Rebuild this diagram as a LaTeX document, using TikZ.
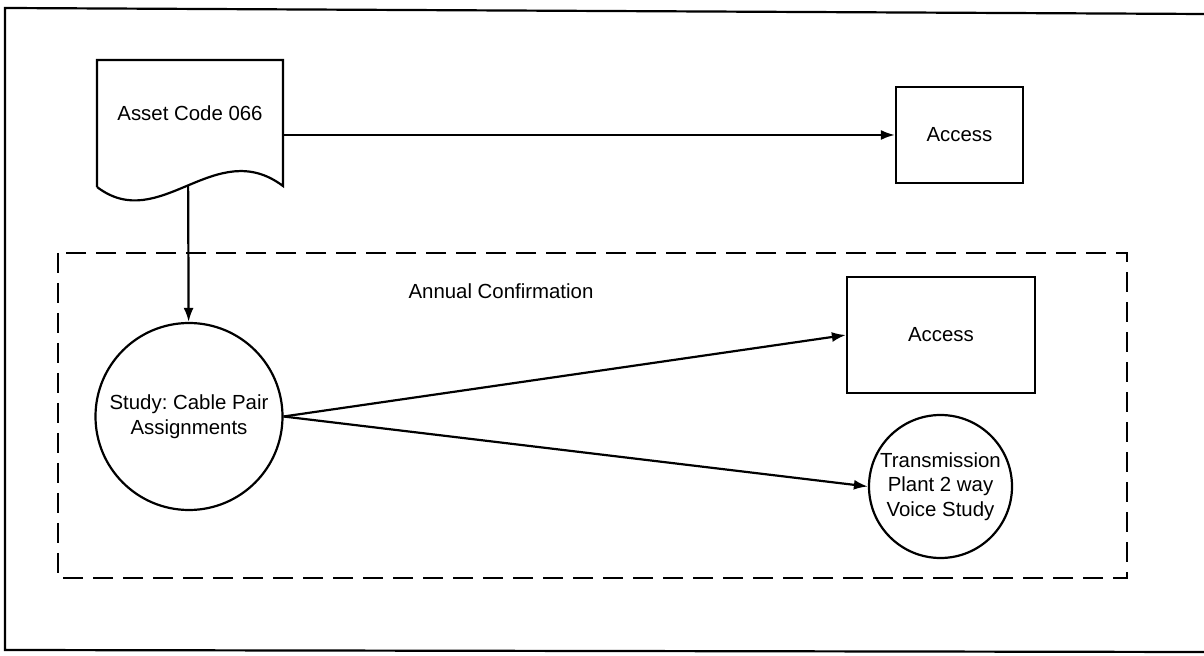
\documentclass[tikz,border=0pt]{standalone}
\usepackage{fontspec}
\setmainfont{Liberation Sans}
\usetikzlibrary{arrows.meta}
\frenchspacing
\begin{document}
\begin{tikzpicture}[x=0.5pt, y=-0.5pt, line width=1.1pt,
    font=\fontsize{10.2}{12.3}\selectfont,
    box/.style={draw, rectangle, inner sep=0pt},
    bubble/.style={draw, circle, inner sep=0pt, align=center},
    flow/.style={-{Latex[length=7pt, width=5pt]}},
    group/.style={dashed, dash pattern=on 10pt off 5pt}]
        \useasboundingbox (0,0) rectangle (1204,656);

        % Outer frame of the page
        \draw (1204,14) -- (5,8) -- (5,650) -- (1204,652);

        % Asset document with wavy bottom
        \draw (97,187) -- (97,60) -- (283,60) coordinate (docNE) -- (283,186)
            .. controls (215,135) and (160,235) .. (97,187);
        \path (97,187) .. controls (160,235) and (215,135) .. (283,186)
            coordinate[pos=0.5] (wave);
        \node (asset) at (190,113) {Asset Code 066};

        % Boxes and studies
        \node[box, minimum width=63.5pt, minimum height=48pt] (accessTop) at (959.5,135) {Access};
        \node[box, minimum width=94pt, minimum height=58pt] (accessIn) at (941,335) {Access};
        \node[bubble, minimum size=93.5pt] (study) at (189,416.5) {Study: Cable Pair\\Assignments};
        \node[bubble, minimum size=71.5pt] (voice) at (940.5,486.5) {Transmission\\Plant 2 way\\Voice Study};

        % Annual confirmation group
        \draw[group] (58,253) rectangle (1127,578);
        \node (annual) at (501,291) {Annual Confirmation};

        % Connectors
        \draw[flow] (docNE |- accessTop.west) -- (accessTop.west);
        \draw[flow] (wave) -- (study);
        \draw[flow] (study.east) -- (accessIn.west);
        \draw[flow] (study.east) -- (voice.west);
\end{tikzpicture}
\end{document}
